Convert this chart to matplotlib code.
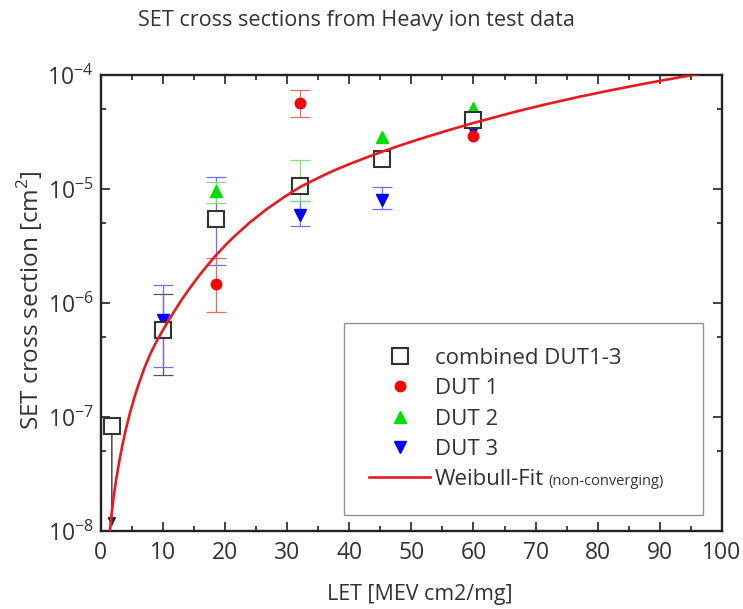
import numpy as np
import matplotlib
matplotlib.use("Agg")
import matplotlib.pyplot as plt
from matplotlib.ticker import LogLocator, MultipleLocator

plt.rcParams['font.family'] = ['Open Sans', 'DejaVu Sans']
plt.rcParams['mathtext.fontset'] = 'custom'
plt.rcParams['mathtext.rm'] = 'Open Sans'

# combined DUT1-3 (open squares)
comb_x = [1.8, 10.1, 18.5, 32.1, 45.3, 60.0]
comb_y = [8.3e-8, 5.8e-7, 5.45e-6, 1.07e-5, 1.83e-5, 3.99e-5]
comb_lo = [np.nan, 2.33e-7, np.nan, np.nan, np.nan, np.nan]
comb_hi = [np.nan, 1.2e-6, np.nan, np.nan, np.nan, np.nan]
comb_limit_end = 1.1e-8   # upper limit arrow of first point

# DUT 1
dut1_x = [18.5, 32.1, 60.0]
dut1_y = [1.48e-6, 5.7e-5, 2.92e-5]
dut1_lo = [8.3e-7, 4.3e-5, np.nan]
dut1_hi = [2.46e-6, 7.4e-5, np.nan]

# DUT 2
dut2_x = [18.5, 32.1, 45.3, 60.0]
dut2_y = [9.6e-6, 1.07e-5, 2.84e-5, 5.1e-5]
dut2_lo = [7.6e-6, 7.9e-6, np.nan, np.nan]
dut2_hi = [1.14e-5, 1.8e-5, np.nan, np.nan]

# DUT 3
dut3_x = [10.1, 18.5, 32.1, 45.3, 60.0]
dut3_y = [7.1e-7, 5.4e-6, 5.9e-6, 8.0e-6, 3.3e-5]
dut3_lo = [2.76e-7, 2.15e-6, 4.73e-6, 6.7e-6, np.nan]
dut3_hi = [1.44e-6, 1.28e-5, 7.85e-6, 1.03e-5, np.nan]

# Weibull fit curve
fit_x = [1.5, 1.75, 2.0, 2.25, 2.5, 3.0, 3.5, 4.0, 4.7, 5.5, 6.0, 7.0, 8.0, 9.0,
         10.1, 11.0, 12.0, 13.0, 14.0, 15.2, 16.0, 17.0, 18.5, 20.0, 21.4, 24.0,
         26.7, 29.5, 32.1, 35.0, 37.4, 40.0, 42.8, 45.3, 48.2, 52.0, 55.7, 60.0,
         66.4, 71.5, 77.2, 82.5, 87.9, 94.3, 100.0]
fit_y = [1.0e-8, 1.40e-8, 1.82e-8, 2.30e-8, 2.84e-8, 4.11e-8, 5.68e-8, 7.57e-8,
         1.08e-7, 1.53e-7, 1.86e-7, 2.66e-7, 3.59e-7, 4.62e-7, 5.89e-7, 7.13e-7,
         8.73e-7, 1.06e-6, 1.27e-6, 1.56e-6, 1.78e-6, 2.08e-6, 2.60e-6, 3.18e-6,
         3.79e-6, 5.08e-6, 6.64e-6, 8.47e-6, 1.04e-5, 1.25e-5, 1.44e-5, 1.65e-5,
         1.89e-5, 2.12e-5, 2.41e-5, 2.81e-5, 3.24e-5, 3.79e-5, 4.70e-5, 5.50e-5,
         6.46e-5, 7.41e-5, 8.45e-5, 9.77e-5, 1.10e-4]


def yerr(y, lo, hi):
    y, lo, hi = np.array(y), np.array(lo), np.array(hi)
    return [y - lo, hi - y]


fig = plt.figure(figsize=(7.43, 6.09), dpi=100)
ax = fig.add_axes([0.1355, 0.128, 0.8362, 0.749])

txt = '#333333'
ebk = dict(fmt='none', elinewidth=0.9, capsize=7, capthick=0.9)

# error bars
ax.errorbar(comb_x, comb_y, yerr=yerr(comb_y, comb_lo, comb_hi), ecolor='#555555', zorder=2, **ebk)
ax.errorbar(dut3_x, dut3_y, yerr=yerr(dut3_y, dut3_lo, dut3_hi), ecolor='#6f6ff0', zorder=2.1, **ebk)
ax.errorbar(dut2_x, dut2_y, yerr=yerr(dut2_y, dut2_lo, dut2_hi), ecolor='#7ee07e', zorder=2.2, **ebk)
ax.errorbar(dut1_x, dut1_y, yerr=yerr(dut1_y, dut1_lo, dut1_hi), ecolor='#ec6a6a', zorder=2.3, **ebk)

# upper limit arrow for the lowest combined point
ax.annotate('', xy=(comb_x[0], comb_limit_end), xytext=(comb_x[0], comb_y[0]),
            arrowprops=dict(arrowstyle='-|>', color='#222222', lw=0.9,
                            mutation_scale=13, shrinkA=0, shrinkB=0),
            zorder=2)

# markers
ax.plot(dut3_x, dut3_y, 'v', color='#0000ff', ms=9, ls='none', zorder=3, label='DUT 3')
ax.plot(dut2_x, dut2_y, '^', color='#00e000', ms=9, ls='none', zorder=3.1, label='DUT 2')
ax.plot(dut1_x, dut1_y, 'o', color='#ff0000', ms=7.5, ls='none', zorder=3.2, label='DUT 1')
ax.plot(comb_x, comb_y, 's', mfc='white', mec='#333333', mew=1.5, ms=11.5, ls='none',
        zorder=4, label='combined DUT1-3')

ax.plot(fit_x, fit_y, color='#e8191f', lw=1.9, zorder=5, label='Weibull-Fit',
        solid_joinstyle='round')

ax.set_yscale('log')
ax.set_xlim(0, 100)
ax.set_ylim(1e-8, 1e-4)
ax.xaxis.set_major_locator(MultipleLocator(10))
ax.xaxis.set_minor_locator(MultipleLocator(5))
ax.yaxis.set_major_locator(LogLocator(base=10, numticks=10))
ax.yaxis.set_minor_locator(LogLocator(base=10, subs=[5.0], numticks=10))

ax.tick_params(which='both', direction='in', top=True, right=True, width=1.2, color='#222222')
ax.tick_params(which='major', length=6.5, labelsize=16.5, labelcolor=txt)
ax.tick_params(axis='x', which='major', pad=7)
ax.tick_params(axis='y', which='major', pad=5)
ax.tick_params(which='minor', length=3.8)
for s in ax.spines.values():
    s.set_linewidth(1.7)
    s.set_color('#222222')

ax.set_xlabel('LET [MEV cm2/mg]', fontsize=15.4, color=txt, va='center')
ax.xaxis.set_label_coords(0.514, -0.140)
ax.set_ylabel('SET cross section [cm$^2$]', fontsize=17.5, color=txt, va='center')
ax.yaxis.set_label_coords(-0.114, 0.507)

fig.text(0.186, 0.967, 'SET cross sections from Heavy ion test data', fontsize=15.6,
         color=txt, ha='left', va='center')

h, l = ax.get_legend_handles_labels()
order = [3, 2, 1, 0, 4]
leg = ax.legend([h[i] for i in order], [l[i] for i in order],
                loc='lower left', bbox_to_anchor=(0.392, 0.035, 0.577, 0.423),
                mode='expand', fontsize=16, frameon=True, fancybox=False,
                edgecolor='#777777', borderpad=1.12, labelspacing=0.42,
                handlelength=2.75, handletextpad=0.2, borderaxespad=0)
leg.get_frame().set_linewidth(1.0)
for t in leg.get_texts():
    t.set_color(txt)

ax.annotate('(non-converging)', xy=(1, 0), xycoords=leg.get_texts()[-1],
            xytext=(3, 1), textcoords='offset points', fontsize=10.5,
            color=txt, ha='left', va='bottom', zorder=10)

fig.savefig('out.png', dpi=100)
